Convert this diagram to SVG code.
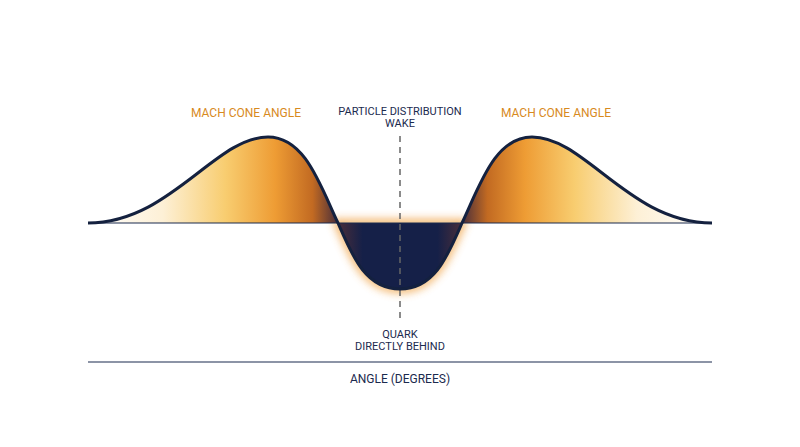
<svg xmlns="http://www.w3.org/2000/svg" width="800" height="447" viewBox="0 0 800 447">
<defs>
<linearGradient id="g" gradientUnits="userSpaceOnUse" x1="88" y1="0" x2="712" y2="0">
<stop offset="0" stop-color="#ffffff"/>
<stop offset="0.12" stop-color="#fdf0d6"/>
<stop offset="0.22" stop-color="#f8cd70"/>
<stop offset="0.3" stop-color="#ee9c34"/>
<stop offset="0.36" stop-color="#c26a22"/>
<stop offset="0.4" stop-color="#4a2e3a"/>
<stop offset="0.44" stop-color="#152048"/>
<stop offset="0.56" stop-color="#152048"/>
<stop offset="0.6" stop-color="#4a2e3a"/>
<stop offset="0.64" stop-color="#c26a22"/>
<stop offset="0.7" stop-color="#ee9c34"/>
<stop offset="0.78" stop-color="#f8cd70"/>
<stop offset="0.88" stop-color="#fdf0d6"/>
<stop offset="1" stop-color="#ffffff"/>
</linearGradient>
<filter id="blur" x="-20%" y="-20%" width="140%" height="140%"><feGaussianBlur stdDeviation="4"/></filter>
</defs>
<style>
text{font-family:"Roboto","Liberation Sans",sans-serif;font-size:11px;text-anchor:middle;fill:#1b2a4e}
.o{fill:#d88a1e;font-size:12px}
</style>
<g id="fill">
<path d="M338,223 C352,255 365,289 400,289 C435,289 448,255 462,223 Z" fill="none" stroke="#f0a040" stroke-width="8" filter="url(#blur)" opacity="0.8"/>
<path d="M88,223 C170,223 215,137 268,137 C305,137 320,185 338,223 C352,255 365,289 400,289 C435,289 448,255 462,223 C480,185 495,137 532,137 C585,137 630,223 712,223 Z" fill="url(#g)"/>
</g>
<g id="axis">
<line x1="88" y1="223" x2="712" y2="223" stroke="#1b2a4e" stroke-width="1.2"/>
<line x1="88" y1="362" x2="712" y2="362" stroke="#1b2a4e" stroke-width="1.2"/>
</g>
<g id="connectors">
<line x1="400" y1="136" x2="400" y2="320" stroke="#666" stroke-width="1.5" stroke-dasharray="6,5"/>
</g>
<g id="curve">
<path d="M88,223 C170,223 215,137 268,137 C305,137 320,185 338,223 C352,255 365,289 400,289 C435,289 448,255 462,223 C480,185 495,137 532,137 C585,137 630,223 712,223" fill="none" stroke="#14213f" stroke-width="3"/>
</g>
<g id="labels">
<text class="o" x="246" y="117">MACH CONE ANGLE</text>
<text class="o" x="556" y="117">MACH CONE ANGLE</text>
<text x="400" y="115">PARTICLE DISTRIBUTION</text>
<text x="400" y="127">WAKE</text>
<text x="400" y="338">QUARK</text>
<text x="400" y="350">DIRECTLY BEHIND</text>
<text x="400" y="383" style="font-size:12px">ANGLE (DEGREES)</text>
</g>
</svg>
